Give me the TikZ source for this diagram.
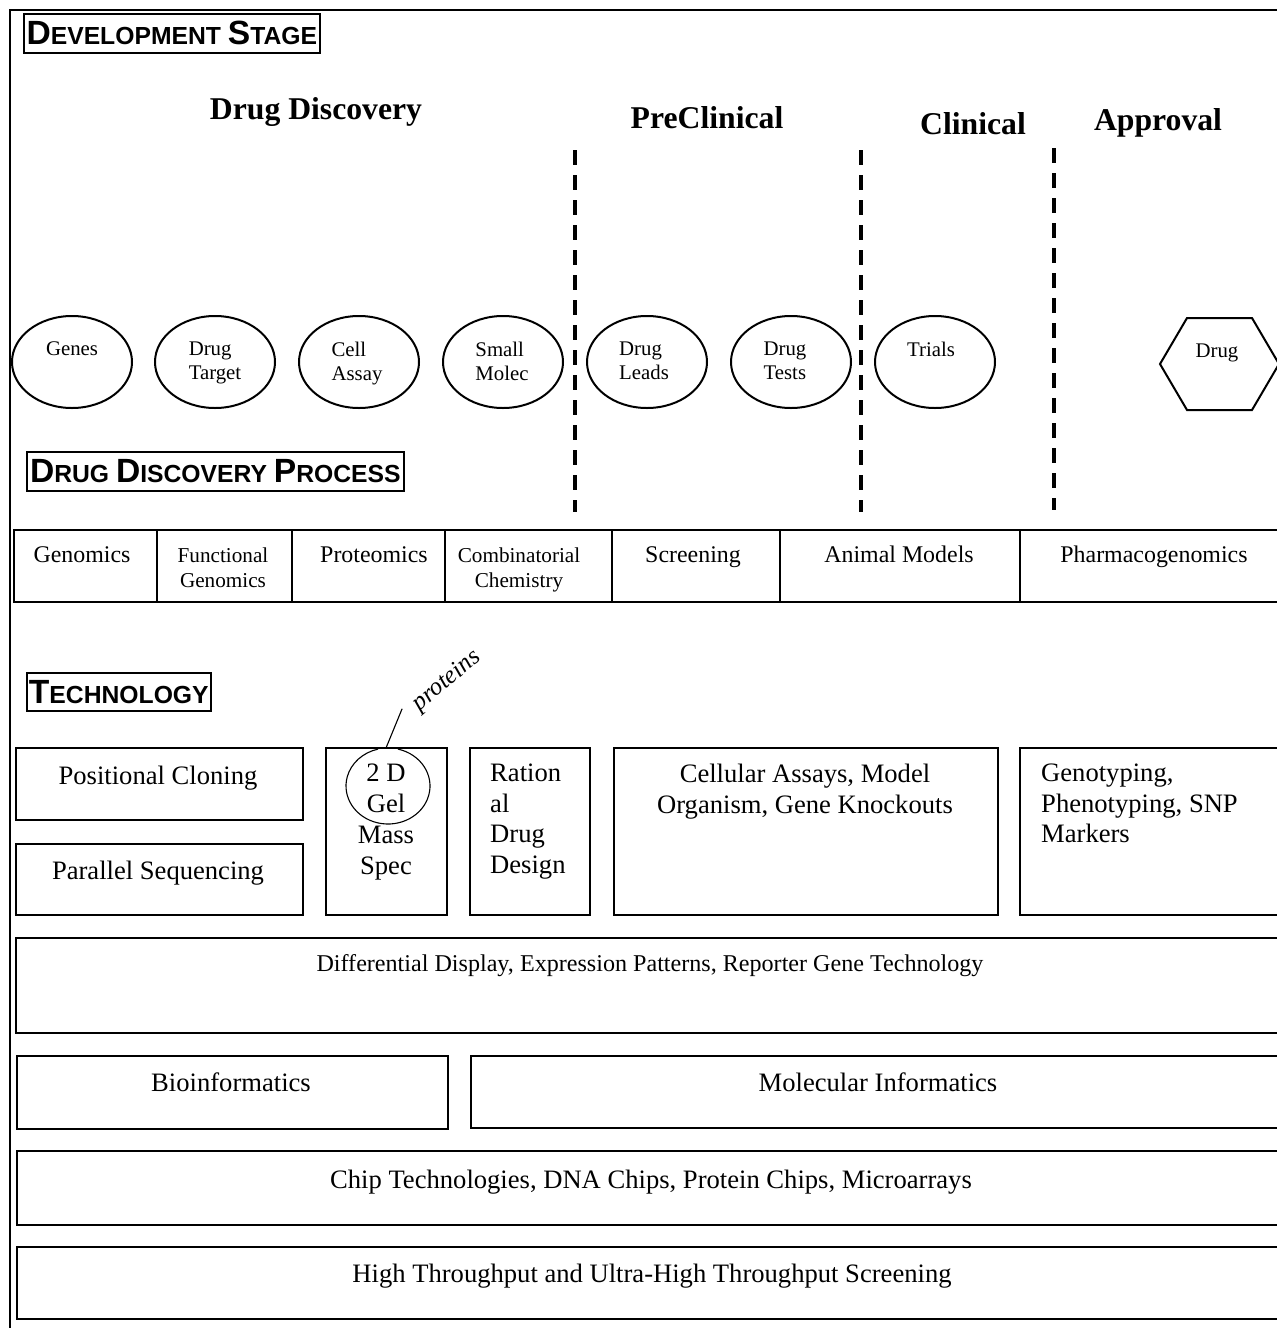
\documentclass[tikz,border=0pt]{standalone}
\usepackage{fontspec}
\setmainfont{Liberation Serif}
\newfontfamily\headsans{Liberation Sans}
\usetikzlibrary{shapes.geometric}

% bold sans caps with a smaller size for all but the first letter of a word
\newcommand{\hdinitial}[1]{{\fontsize{33.6}{36}\selectfont #1}}
\newcommand{\hdrest}[1]{{\fontsize{24.7}{27}\selectfont #1}}

\begin{document}
\begin{tikzpicture}[x=1pt,y=-1pt,
  frame/.style={line width=2pt},
  headbox/.style={draw, line width=1.6pt, inner sep=0pt, anchor=north west,
    font=\headsans\bfseries\fontsize{24.7}{27}\selectfont},
  phase/.style={anchor=north, inner sep=0pt, font=\fontsize{31.7}{34}\selectfont\bfseries},
  divider/.style={line width=3.5pt, dash pattern=on 15pt off 10pt},
  stage/.style={ellipse, draw, line width=2pt, minimum width=120pt,
    minimum height=92pt, inner sep=0pt},
  stagetext/.style={anchor=north, inner sep=0pt, align=left,
    font=\fontsize{20.8}{24}\selectfont},
  cellbox/.style={draw, line width=2pt, anchor=north west, inner sep=0pt},
  proctext/.style={anchor=north, inner sep=0pt, align=center,
    font=\fontsize{23.9}{25}\selectfont},
  procsmall/.style={anchor=north, inner sep=0pt, align=center,
    font=\fontsize{21.2}{25}\selectfont},
  techbox/.style={draw, line width=2pt, anchor=north west, inner sep=0pt},
  techtext/.style={anchor=north, inner sep=0pt, align=center,
    font=\fontsize{26.6}{31}\selectfont},
  techleft/.style={anchor=north west, inner sep=0pt, align=left,
    font=\fontsize{26.6}{30.5}\selectfont},
  hand/.style={line width=1.1pt, line cap=round}
]
\useasboundingbox (0,0) rectangle (1277,1328);
\clip (0,0) rectangle (1277,1328);
\fill[white] (0,0) rectangle (1277,1328);

% page frame: top and left rules
\coordinate (fc) at (10,10);
\coordinate (ftr) at (1290,10);
\coordinate (fbl) at (10,1340);
\draw[frame] (ftr) -- (fc) -- (fbl);

% section headings
\node[headbox, minimum width=296pt, minimum height=39pt] (devstage) at (23,13)
  {\hdinitial{D}\hdrest{EVELOPMENT} \hdinitial{S}\hdrest{TAGE}};
\node[headbox, minimum width=377pt, minimum height=39pt] (ddprocess) at (26,451)
  {\hdinitial{D}\hdrest{RUG} \hdinitial{D}\hdrest{ISCOVERY} \hdinitial{P}\hdrest{ROCESS}};
\node[headbox, minimum width=184pt, minimum height=38pt] (technology) at (26,672)
  {\hdinitial{T}\hdrest{ECHNOLOGY}};

% phases
\node[phase] (discovery) at (316,97) {Drug Discovery};
\node[phase] (preclinical) at (707,106) {PreClinical};
\node[phase] (clinical) at (973,112) {Clinical};
\node[phase] (approval) at (1158,108) {Approval};

% phase boundaries
\coordinate (d1t) at (575,150); \coordinate (d1b) at (575,512);
\coordinate (d2t) at (861,150); \coordinate (d2b) at (861,512);
\coordinate (d3t) at (1054,148); \coordinate (d3b) at (1054,510);
\draw[divider] (d1t) -- (d1b);
\draw[divider] (d2t) -- (d2b);
\draw[divider] (d3t) -- (d3b);

% stage ellipses
\node[stage] (genes) at (72,362) {};
\node[stage] (target) at (215,362) {};
\node[stage] (cell) at (359,362) {};
\node[stage] (molec) at (503,362) {};
\node[stage] (leads) at (647,362) {};
\node[stage] (tests) at (791,362) {};
\node[stage] (trials) at (935,362) {};
\node[stagetext] (genest) at (72,342) {Genes};
\node[stagetext] (targett) at (215,342) {Drug\\Target};
\node[stagetext] (cellt) at (357,342) {Cell\\Assay};
\node[stagetext] (molect) at (502,342) {Small\\Molec};
\node[stagetext] (leadst) at (644,342) {Drug\\Leads};
\node[stagetext] (testst) at (785,342) {Drug\\Tests};
\node[stagetext] (trialst) at (931,342) {Trials};

% final product hexagon
\coordinate (hx1) at (1160,364);
\coordinate (hx2) at (1187,318);
\coordinate (hx3) at (1252,318);
\coordinate (hx4) at (1279,364);
\coordinate (hx5) at (1252,410);
\coordinate (hx6) at (1187,410);
\draw[line width=2pt, line join=miter] (hx1) -- (hx2) -- (hx3) -- (hx4) -- (hx5) -- (hx6) -- cycle;
\node[stagetext] (drug) at (1217,344) {Drug};

% process table
\node[cellbox, minimum width=143pt, minimum height=72pt] (p1) at (13,529) {};
\node[cellbox, minimum width=135pt, minimum height=72pt] (p2) at (156,529) {};
\node[cellbox, minimum width=153pt, minimum height=72pt] (p3) at (291,529) {};
\node[cellbox, minimum width=167pt, minimum height=72pt] (p4) at (444,529) {};
\node[cellbox, minimum width=168pt, minimum height=72pt] (p5) at (611,529) {};
\node[cellbox, minimum width=240pt, minimum height=72pt] (p6) at (779,529) {};
\node[cellbox, minimum width=280pt, minimum height=72pt] (p7) at (1019,529) {};
\node[proctext] (p1t) at (82,546) {Genomics};
\node[procsmall] (p2t) at (223,548) {Functional\\Genomics};
\node[proctext] (p3t) at (374,546) {Proteomics};
\node[procsmall] (p4t) at (519,548) {Combinatorial\\Chemistry};
\node[proctext] (p5t) at (693,546) {Screening};
\node[proctext] (p6t) at (899,546) {Animal Models};
\node[proctext] (p7t) at (1154,546) {Pharmacogenomics};

% technology boxes
\node[techbox, minimum width=287pt, minimum height=72pt] (cloning) at (15,747) {};
\node[techbox, minimum width=287pt, minimum height=71pt] (parseq) at (15,843) {};
\node[techbox, minimum width=121pt, minimum height=167pt] (gel) at (325,747) {};
\node[techbox, minimum width=120pt, minimum height=167pt] (rational) at (469,747) {};
\node[techbox, minimum width=384pt, minimum height=167pt] (cellular) at (613,747) {};
\node[techbox, minimum width=280pt, minimum height=167pt] (genotyping) at (1019,747) {};
\node[techbox, minimum width=1280pt, minimum height=95pt] (diffdisp) at (15,937) {};
\node[techbox, minimum width=431pt, minimum height=73pt] (bioinf) at (16,1055) {};
\node[techbox, minimum width=830pt, minimum height=72pt] (molinf) at (470,1055) {};
\node[techbox, minimum width=1280pt, minimum height=74pt] (chips) at (16,1150) {};
\node[techbox, minimum width=1280pt, minimum height=72pt] (htscreen) at (16,1246) {};

\node[techtext] (cloningt) at (158,766) {Positional Cloning};
\node[techtext] (parseqt) at (158,861) {Parallel Sequencing};
\node[techtext] (gelt) at (386,764) {2 D\\Gel\\Mass\\Spec};
\node[techleft] (rationalt) at (490,764) {Ration\\al\\Drug\\Design};
\node[techtext] (cellulart) at (805,764) {Cellular Assays, Model\\Organism, Gene Knockouts};
\node[techleft] (genotypingt) at (1041,764) {Genotyping,\\Phenotyping, SNP\\Markers};
\node[anchor=north, inner sep=0pt, font=\fontsize{24.1}{26}\selectfont] (diffdispt) at (650,954)
  {Differential Display, Expression Patterns, Reporter Gene Technology};
\node[techtext] (bioinft) at (231,1073) {Bioinformatics};
\node[techtext] (molinft) at (878,1073) {Molecular Informatics};
\node[techtext] (chipst) at (651,1170) {Chip Technologies, DNA Chips, Protein Chips, Microarrays};
\node[techtext] (htscreent) at (652,1264) {High Throughput and Ultra-High Throughput Screening};

% pen annotation: ring around "2 D Gel" and a leader to the note
\draw[hand] (388,786) ++(-76:42 and 38) arc[start angle=-76, end angle=256, x radius=42, y radius=38];
\coordinate (ringtop) at (386,748);
\node[inner sep=0pt, rotate=40, font=\fontsize{25}{27}\selectfont\itshape] (proteins) at (447,681) {proteins};
\coordinate (notefoot) at (402,709);
\draw[hand] (ringtop) -- (notefoot);
\end{tikzpicture}
\end{document}
